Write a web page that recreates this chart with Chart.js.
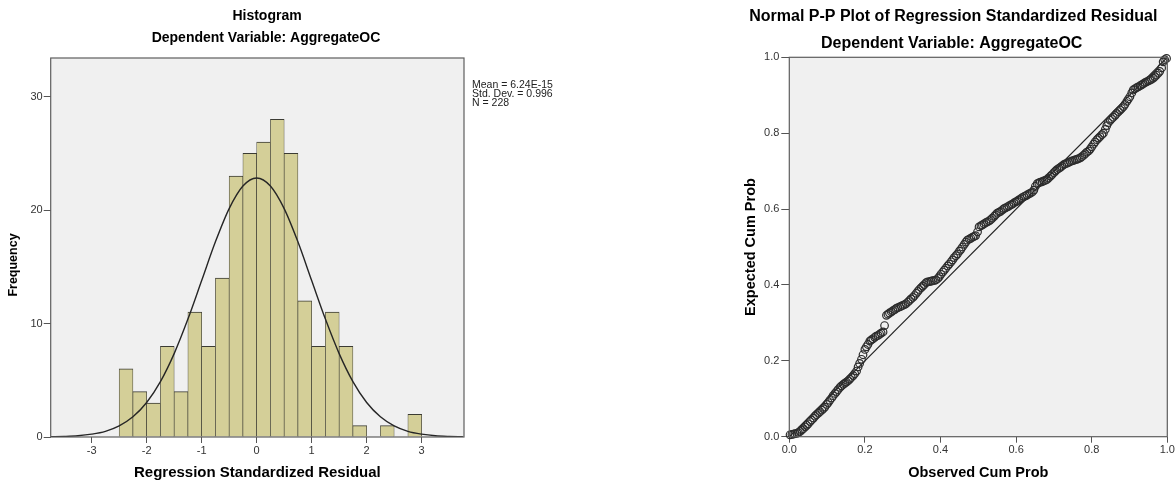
<!DOCTYPE html>
<html>
<head>
<meta charset="utf-8">
<title>Regression residuals</title>
<script src="https://cdn.jsdelivr.net/npm/chart.js@4.4.1/dist/chart.umd.min.js"></script>
<style>
  html, body { margin: 0; padding: 0; background: #fff; overflow: hidden; }
  canvas { position: absolute; top: 0; }
  #hist { left: 0; }
  #pp { left: 730px; }
</style>
</head>
<body>
<canvas id="hist" width="600" height="487"></canvas>
<canvas id="pp" width="446" height="487"></canvas>
<script>
const FONT = "'Liberation Sans', Arial, sans-serif";

// histogram of standardized residuals (bins of 0.25)
const binCenters = [-2.375, -2.125, -1.875, -1.625, -1.375, -1.125, -0.875, -0.625, -0.375, -0.125,
                    0.125, 0.375, 0.625, 0.875, 1.125, 1.375, 1.625, 1.875, 2.125, 2.375, 2.625, 2.875];
const binCounts = [6, 4, 3, 8, 4, 11, 8, 14, 23, 25, 26, 28, 25, 12, 8, 11, 8, 1, null, 1, null, 2];

// normal curve
const curveX = [-3.75, -3.5, -3.25, -3, -2.75, -2.5, -2.25, -2, -1.75, -1.5, -1.25, -1, -0.75, -0.5, -0.25, 0,
                0.25, 0.5, 0.75, 1, 1.25, 1.5, 1.75, 2, 2.25, 2.5, 2.75, 3, 3.25, 3.5, 3.75];
const curveY = [0.02, 0.05, 0.11, 0.25, 0.5, 0.98, 1.78, 3.04, 4.88, 7.35, 10.39, 13.79, 17.2, 20.13, 22.12, 22.83,
                22.12, 20.13, 17.2, 13.79, 10.39, 7.35, 4.88, 3.04, 1.78, 0.98, 0.5, 0.25, 0.11, 0.05, 0.02];

const histXTicks = [-3, -2, -1, 0, 1, 2, 3];
const histYTicks = [0, 10, 20, 30];
const histStats = ['Mean = 6.24E-15', 'Std. Dev. = 0.996', 'N = 228'];

// P-P plot points
const ppObserved = [
  0.002, 0.007, 0.011, 0.015, 0.020, 0.024, 0.029, 0.033, 0.037, 0.042,
  0.046, 0.050, 0.055, 0.059, 0.064, 0.068, 0.072, 0.077, 0.081, 0.086,
  0.090, 0.094, 0.099, 0.103, 0.107, 0.112, 0.116, 0.121, 0.125, 0.129,
  0.134, 0.138, 0.143, 0.147, 0.151, 0.156, 0.160, 0.164, 0.169, 0.173,
  0.178, 0.182, 0.186, 0.191, 0.195, 0.200, 0.204, 0.208, 0.213, 0.217,
  0.221, 0.226, 0.230, 0.235, 0.239, 0.243, 0.248, 0.252, 0.257, 0.261,
  0.265, 0.270, 0.274, 0.279, 0.283, 0.287, 0.292, 0.296, 0.300, 0.305,
  0.309, 0.314, 0.318, 0.322, 0.327, 0.331, 0.336, 0.340, 0.344, 0.349,
  0.353, 0.357, 0.362, 0.366, 0.371, 0.375, 0.379, 0.384, 0.388, 0.393,
  0.397, 0.401, 0.406, 0.410, 0.414, 0.419, 0.423, 0.428, 0.432, 0.436,
  0.441, 0.445, 0.450, 0.454, 0.458, 0.463, 0.467, 0.471, 0.476, 0.480,
  0.485, 0.489, 0.493, 0.498, 0.502, 0.507, 0.511, 0.515, 0.520, 0.524,
  0.529, 0.533, 0.537, 0.542, 0.546, 0.550, 0.555, 0.559, 0.564, 0.568,
  0.572, 0.577, 0.581, 0.586, 0.590, 0.594, 0.599, 0.603, 0.607, 0.612,
  0.616, 0.621, 0.625, 0.629, 0.634, 0.638, 0.643, 0.647, 0.651, 0.656,
  0.660, 0.664, 0.669, 0.673, 0.678, 0.682, 0.686, 0.691, 0.695, 0.700,
  0.704, 0.708, 0.713, 0.717, 0.721, 0.726, 0.730, 0.735, 0.739, 0.743,
  0.748, 0.752, 0.757, 0.761, 0.765, 0.770, 0.774, 0.779, 0.783, 0.787,
  0.792, 0.796, 0.800, 0.805, 0.809, 0.814, 0.818, 0.822, 0.827, 0.831,
  0.836, 0.840, 0.844, 0.849, 0.853, 0.857, 0.862, 0.866, 0.871, 0.875,
  0.879, 0.884, 0.888, 0.893, 0.897, 0.901, 0.906, 0.910, 0.914, 0.919,
  0.923, 0.928, 0.932, 0.936, 0.941, 0.945, 0.950, 0.954, 0.958, 0.963,
  0.967, 0.971, 0.976, 0.980, 0.985, 0.989, 0.993, 0.998
];
const ppExpected = [
  0.005, 0.006, 0.007, 0.008, 0.009, 0.011, 0.014, 0.018, 0.021, 0.026,
  0.030, 0.034, 0.040, 0.044, 0.049, 0.054, 0.058, 0.062, 0.066, 0.070,
  0.074, 0.078, 0.085, 0.090, 0.096, 0.102, 0.108, 0.114, 0.119, 0.124,
  0.130, 0.134, 0.138, 0.141, 0.144, 0.148, 0.152, 0.156, 0.161, 0.166,
  0.173, 0.184, 0.193, 0.204, 0.216, 0.230, 0.237, 0.243, 0.252, 0.255,
  0.258, 0.262, 0.265, 0.267, 0.270, 0.273, 0.276, 0.293, 0.320, 0.323,
  0.326, 0.329, 0.332, 0.335, 0.338, 0.340, 0.342, 0.344, 0.346, 0.348,
  0.351, 0.355, 0.359, 0.363, 0.367, 0.372, 0.378, 0.383, 0.388, 0.393,
  0.397, 0.401, 0.406, 0.408, 0.409, 0.410, 0.411, 0.412, 0.413, 0.417,
  0.422, 0.428, 0.434, 0.439, 0.444, 0.450, 0.455, 0.461, 0.466, 0.472,
  0.477, 0.482, 0.489, 0.494, 0.500, 0.507, 0.513, 0.518, 0.521, 0.523,
  0.526, 0.528, 0.530, 0.540, 0.553, 0.556, 0.558, 0.561, 0.564, 0.566,
  0.569, 0.572, 0.576, 0.581, 0.585, 0.589, 0.592, 0.594, 0.598, 0.601,
  0.603, 0.606, 0.608, 0.611, 0.613, 0.616, 0.619, 0.621, 0.624, 0.627,
  0.630, 0.633, 0.635, 0.637, 0.640, 0.642, 0.645, 0.650, 0.660, 0.667,
  0.669, 0.671, 0.672, 0.674, 0.676, 0.678, 0.682, 0.687, 0.691, 0.696,
  0.700, 0.704, 0.707, 0.710, 0.713, 0.717, 0.719, 0.721, 0.723, 0.725,
  0.727, 0.728, 0.730, 0.731, 0.733, 0.735, 0.738, 0.742, 0.746, 0.750,
  0.753, 0.758, 0.764, 0.771, 0.777, 0.783, 0.787, 0.791, 0.796, 0.800,
  0.810, 0.820, 0.828, 0.834, 0.838, 0.842, 0.847, 0.852, 0.857, 0.861,
  0.865, 0.870, 0.876, 0.884, 0.890, 0.896, 0.906, 0.914, 0.917, 0.920,
  0.922, 0.925, 0.927, 0.930, 0.933, 0.935, 0.938, 0.940, 0.942, 0.945,
  0.949, 0.953, 0.958, 0.963, 0.972, 0.988, 0.994, 0.997
];
const refX = [0, 1];
const refY = [0, 1];
const ppTicks = [0, 0.2, 0.4, 0.6, 0.8, 1];
const ppTickLabels = ['0.0', '0.2', '0.4', '0.6', '0.8', '1.0'];

Chart.defaults.font.family = FONT;

// grey plot background + frame, SPSS style
const plotFrame = {
  id: 'plotFrame',
  beforeDraw(chart) {
    const { ctx, chartArea: a } = chart;
    ctx.save();
    ctx.fillStyle = '#f0f0f0';
    ctx.fillRect(a.left, a.top, a.width, a.height);
    ctx.restore();
  },
  afterDraw(chart) {
    const { ctx, chartArea: a } = chart;
    ctx.save();
    ctx.strokeStyle = '#5e5e5e';
    ctx.lineWidth = 1.2;
    ctx.strokeRect(a.left, a.top, a.width, a.height);
    ctx.restore();
  }
};

// titles and the stats note, drawn at fixed spots
const notes = {
  id: 'notes',
  afterDraw(chart, args, opts) {
    const { ctx } = chart;
    (opts.lines || []).forEach(l => {
      ctx.save();
      ctx.font = (l.bold ? 'bold ' : '') + l.size + 'px ' + FONT;
      ctx.textAlign = l.align || 'center';
      ctx.textBaseline = 'middle';
      ctx.fillStyle = l.color || '#000';
      ctx.translate(l.x, l.y);
      if (l.rotate) ctx.rotate(l.rotate);
      ctx.fillText(l.text, 0, 0);
      ctx.restore();
    });
  }
};

function axis(o) {
  return {
    min: o.min, max: o.max, offset: false,
    afterBuildTicks: s => { s.ticks = o.ticks.map(v => ({ value: v })); },
    afterFit: s => { if (o.width) s.width = o.width; if (o.height) s.height = o.height; },
    grid: { drawOnChartArea: false, drawTicks: true, tickLength: o.tickLength, color: '#555', offset: false },
    border: { display: false },
    ticks: {
      font: { size: 11 }, color: '#333', padding: o.pad, autoSkip: false, maxRotation: 0,
      callback: o.labels ? (v, i) => o.labels[i] : undefined
    },
    title: { display: !!o.title, text: o.title, color: '#000', font: { size: o.titleSize, weight: 'bold' }, padding: o.titlePad }
  };
}

new Chart(document.getElementById('hist'), {
  type: 'bar',
  data: {
    datasets: [
      {
        type: 'line',
        data: curveX.map((x, i) => ({ x, y: curveY[i] })),
        borderColor: '#262626',
        borderWidth: 1.4,
        pointRadius: 0,
        cubicInterpolationMode: 'monotone',
        order: 0
      },
      {
        type: 'bar',
        data: binCenters.map((x, i) => ({ x, y: binCounts[i] })),
        backgroundColor: '#d4cf98',
        borderColor: '#3b3b33',
        borderWidth: { top: 1, left: 0.65, right: 0.65, bottom: 0 },
        barPercentage: 1,
        categoryPercentage: 1,
        order: 1
      }
    ]
  },
  options: {
    responsive: false,
    animation: false,
    events: [],
    layout: { padding: { left: 0, right: 136, top: 58, bottom: 0 } },
    plugins: {
      legend: { display: false },
      tooltip: { enabled: false },
      notes: {
        lines: [
          { text: 'Histogram', x: 267, y: 15.8, size: 14, bold: true },
          { text: 'Dependent Variable: AggregateOC', x: 266, y: 38.5, size: 14, bold: true },
          { text: 'Frequency', x: 13.5, y: 265, size: 12.5, bold: true, rotate: -Math.PI / 2 },
          { text: histStats[0], x: 472, y: 85, size: 10.5, align: 'left', color: '#222' },
          { text: histStats[1], x: 472, y: 94.2, size: 10.5, align: 'left', color: '#222' },
          { text: histStats[2], x: 472, y: 103.4, size: 10.5, align: 'left', color: '#222' }
        ]
      }
    },
    scales: {
      x: Object.assign(axis({ min: -3.745, max: 3.77, ticks: histXTicks, height: 50, tickLength: 6, pad: 1.4,
        title: 'Regression Standardized Residual', titleSize: 15, titlePad: { top: 0, bottom: 5 } }), { type: 'linear' }),
      y: axis({ min: 0, max: 33.4, ticks: histYTicks, width: 50.7, tickLength: 7, pad: 1 })
    }
  },
  plugins: [plotFrame, notes]
});

new Chart(document.getElementById('pp'), {
  type: 'scatter',
  data: {
    datasets: [
      {
        data: ppObserved.map((x, i) => ({ x, y: ppExpected[i] })),
        pointRadius: 3.8,
        pointBorderWidth: 1.2,
        pointBorderColor: '#2c2c2c',
        pointBackgroundColor: 'rgba(0,0,0,0)',
        clip: false,
        order: 0
      },
      {
        type: 'line',
        data: refX.map((x, i) => ({ x, y: refY[i] })),
        borderColor: '#222',
        borderWidth: 1.2,
        pointRadius: 0,
        fill: false,
        order: 1
      }
    ]
  },
  options: {
    responsive: false,
    animation: false,
    events: [],
    layout: { padding: { left: 0, right: 8.7, top: 57.3, bottom: 0 } },
    plugins: {
      legend: { display: false },
      tooltip: { enabled: false },
      notes: {
        lines: [
          { text: 'Normal P-P Plot of Regression Standardized Residual', x: 223.3, y: 17, size: 16, bold: true },
          { text: 'Dependent Variable: AggregateOC', x: 221.7, y: 43.7, size: 16, bold: true }
        ]
      }
    },
    scales: {
      x: axis({ min: 0, max: 1, ticks: ppTicks, labels: ppTickLabels, height: 50.3, tickLength: 6, pad: 0.4,
        title: 'Observed Cum Prob', titleSize: 14.5, titlePad: { top: 0, bottom: 5.3 } }),
      y: axis({ min: 0, max: 1, ticks: ppTicks, labels: ppTickLabels, width: 59.3, tickLength: 8, pad: 2,
        title: 'Expected Cum Prob', titleSize: 14.5, titlePad: { top: 12, bottom: 0 } })
    }
  },
  plugins: [plotFrame, notes]
});
</script>
</body>
</html>
